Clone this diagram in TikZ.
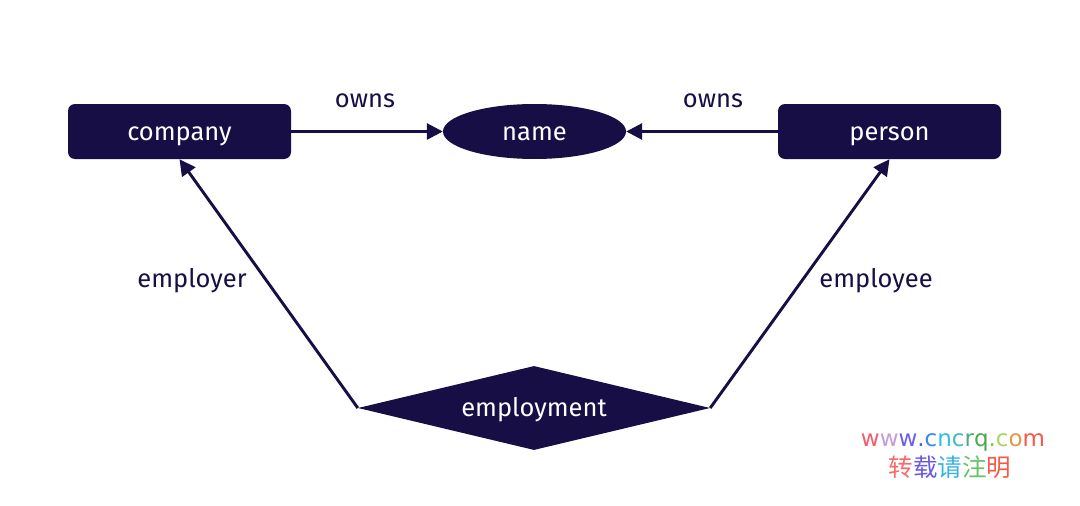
\documentclass[tikz,border=0pt]{standalone}
\usepackage{fontspec}
\setmainfont{Fira Sans}
\newfontfamily\wmfont{DejaVu Sans}
\newfontfamily\cjk{Noto Sans CJK SC}
\usetikzlibrary{shapes.geometric,arrows.meta}
\definecolor{navy}{HTML}{170E45}
\tikzset{
  txt/.style={font=\fontsize{25.5}{28}\selectfont,text height=17pt,text depth=0pt},
  entity/.style={txt,fill=navy,draw=none,rounded corners=7pt,minimum width=223pt,minimum height=55pt,text=white},
  attr/.style={txt,ellipse,fill=navy,draw=none,minimum width=183pt,minimum height=55pt,inner sep=0pt,text=white},
  rel/.style={txt,diamond,fill=navy,draw=none,shape aspect=4.19,minimum width=352pt,minimum height=84pt,inner sep=0pt,text=white},
  conn/.style={draw=navy,line width=2.9pt,-{Triangle[length=16pt,width=16pt]}},
  lbl/.style={txt,text=navy},
}
\begin{document}
\begin{tikzpicture}[x=1pt,y=-1pt]
\useasboundingbox[fill=white] (0,0) rectangle (1080,506);
\node[entity] (company) at (179.5,131.5) {company};
\node[attr] (name) at (534.5,131.5) {name};
\node[entity] (person) at (889.5,131.5) {person};
\node[rel] (emp) at (534,408) {employment};
\draw[conn] (company.east) -- (name.west);
\draw[conn] (person.west) -- (name.east);
\draw[conn] (emp.west) -- (company.south);
\draw[conn] (emp.east) -- (person.south);
\node[lbl] (l1) at (365,99) {owns};
\node[lbl] (l2) at (713,99) {owns};
\node[lbl] (l3) at (192,279) {employer};
\node[lbl] (l4) at (876,279) {employee};
\node[font=\wmfont\fontsize{23}{26}\selectfont,inner sep=0pt] (wm1) at (953,442) {\textcolor[HTML]{F85A6E}{w}\textcolor[HTML]{C89AD8}{w}\textcolor[HTML]{6A5CF5}{w}\textcolor[HTML]{4A5CF0}{.}\textcolor[HTML]{3A86F5}{c}\textcolor[HTML]{30BDEA}{n}\textcolor[HTML]{3AC0B8}{c}\textcolor[HTML]{48B078}{r}\textcolor[HTML]{4AA850}{q}\textcolor[HTML]{7ACB55}{.}\textcolor[HTML]{A8D46A}{c}\textcolor[HTML]{E09A48}{o}\textcolor[HTML]{F55A48}{m}};
\node[font=\cjk\fontsize{24.5}{28}\selectfont,inner sep=0pt] (wm2) at (950,467) {\textcolor[HTML]{F86A6A}{转}\textcolor[HTML]{6A58E8}{载}\textcolor[HTML]{38B2E5}{请}\textcolor[HTML]{66C466}{注}\textcolor[HTML]{F55A48}{明}};
\end{tikzpicture}
\end{document}
